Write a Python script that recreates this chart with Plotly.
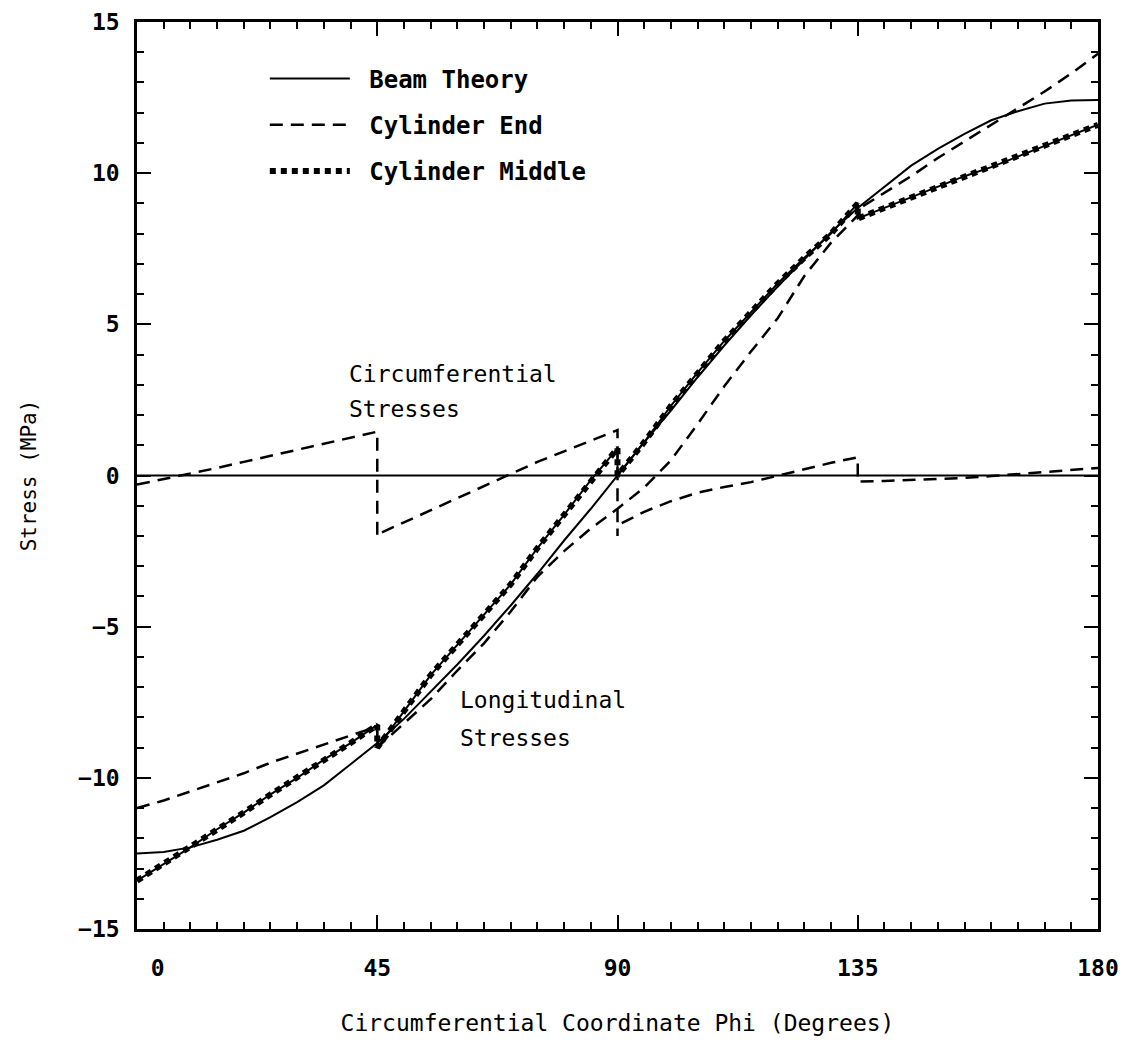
import plotly.graph_objects as go

# ---------------- data ----------------
phi_full = [0, 5, 10, 15, 20, 25, 30, 35, 40, 45, 50, 55, 60, 65, 70, 75, 80, 85, 90,
            95, 100, 105, 110, 115, 120, 125, 130, 135, 140, 145, 150, 155, 160, 165,
            170, 175, 180]
beam_long = [-12.5, -12.45, -12.3, -12.05, -11.75, -11.3, -10.8, -10.25, -9.55, -8.85,
             -8.05, -7.15, -6.25, -5.3, -4.3, -3.25, -2.15, -1.1, 0.0,
             1.1, 2.15, 3.25, 4.3, 5.3, 6.25, 7.15, 8.05, 8.85, 9.55, 10.25, 10.8,
             11.3, 11.75, 12.05, 12.3, 12.4, 12.42]
beam_circ_phi = [0, 180]
beam_circ = [0.0, 0.0]

# Cylinder End, longitudinal stresses (segments separated by jumps at 45 and 135)
end_long_phi = [0, 5, 10, 15, 20, 25, 30, 35, 40, 45,
                45, 50, 55, 60, 65, 70, 75, 80, 85, 90, 95, 100, 105, 110, 115, 120, 125, 130, 135,
                135, 140, 145, 150, 155, 160, 165, 170, 175, 180]
end_long = [-11.0, -10.75, -10.45, -10.15, -9.85, -9.5, -9.2, -8.9, -8.6, -8.3,
            -9.0, -8.2, -7.4, -6.45, -5.55, -4.5, -3.35, -2.5, -1.75, -1.1, -0.4, 0.5, 1.7,
            2.95, 4.1, 5.2, 6.6, 7.7, 8.6,
            8.8, 9.35, 9.9, 10.5, 11.05, 11.6, 12.15, 12.7, 13.3, 13.95]

# Cylinder End, circumferential stresses (saw-tooth with drops at 45, 90, 135)
end_circ_phi = [0, 5, 10, 15, 20, 25, 30, 35, 40, 45,
                45, 45, 50, 55, 60, 65, 70, 75, 80, 85, 90,
                90, 90, 95, 100, 105, 110, 115, 120, 125, 130, 135,
                135, 140, 145, 150, 155, 160, 165, 170, 175, 180]
end_circ = [-0.3, -0.12, 0.05, 0.25, 0.45, 0.65, 0.85, 1.05, 1.25, 1.45,
            -2.0, -1.95, -1.55, -1.15, -0.75, -0.35, 0.05, 0.45, 0.8, 1.15, 1.5,
            -2.0, -1.65, -1.2, -0.85, -0.57, -0.38, -0.22, 0.0, 0.22, 0.42, 0.6,
            -0.2, -0.18, -0.15, -0.12, -0.08, -0.02, 0.05, 0.12, 0.2, 0.25]

# Cylinder Middle, longitudinal stresses
mid_long_phi = [0, 5, 10, 15, 20, 25, 30, 35, 40, 45,
                45, 50, 55, 60, 65, 70, 75, 80, 85, 90,
                90, 95, 100, 105, 110, 115, 120, 125, 130, 135,
                135, 140, 145, 150, 155, 160, 165, 170, 175, 180]
mid_long = [-13.4, -12.85, -12.3, -11.7, -11.15, -10.55, -10.0, -9.4, -8.85, -8.25,
            -9.0, -7.8, -6.6, -5.6, -4.6, -3.6, -2.4, -1.3, -0.15, 0.9,
            0.0, 1.1, 2.3, 3.4, 4.45, 5.4, 6.35, 7.2, 8.0, 9.0,
            8.5, 8.85, 9.2, 9.55, 9.9, 10.2, 10.55, 10.9, 11.25, 11.6]

series_names = ["\u00a0Beam Theory", "\u00a0Cylinder End", "\u00a0Cylinder Middle"]
x_ticks = [0, 45, 90, 135, 180]
x_ticktext = ["\u00a0\u00a0\u00a00", "45", "90", "135", "180"]
y_ticks = [-15, -10, -5, 0, 5, 10, 15]

FONT = "DejaVu Sans Mono"

fig = go.Figure()

fig.add_trace(go.Scatter(x=phi_full, y=beam_long, mode="lines", name=series_names[0],
                         legendgroup="a", line=dict(color="black", width=2)))
fig.add_trace(go.Scatter(x=beam_circ_phi, y=beam_circ, mode="lines", showlegend=False,
                         legendgroup="a", line=dict(color="black", width=2)))

fig.add_trace(go.Scatter(x=end_long_phi, y=end_long, mode="lines", name=series_names[1],
                         legendgroup="b", line=dict(color="black", width=2.5, dash="13px,8px")))
fig.add_trace(go.Scatter(x=end_circ_phi, y=end_circ, mode="lines", showlegend=False,
                         legendgroup="b", line=dict(color="black", width=2.5, dash="13px,8px")))

fig.add_trace(go.Scatter(x=mid_long_phi, y=mid_long, mode="lines", showlegend=False,
                         legendgroup="c", line=dict(color="black", width=2)))
fig.add_trace(go.Scatter(x=mid_long_phi, y=mid_long, mode="lines", name=series_names[2],
                         legendgroup="c", line=dict(color="black", width=6, dash="6px,5px")))

def label(text, x, y):
    fig.add_annotation(x=x, y=y, text=text, showarrow=False, xanchor="left",
                       yanchor="middle", font=dict(family=FONT, size=23, color="black"))

label("Circumferential", 39.3, 3.37)
label("Stresses", 39.3, 2.2)
label("Longitudinal", 60.1, -7.44)
label("Stresses", 60.1, -8.67)

axis_common = dict(showline=True, linewidth=2.5, linecolor="black", mirror="allticks",
                   ticks="inside", ticklen=14, tickwidth=2, tickcolor="black",
                   showgrid=False, zeroline=False,
                   tickfont=dict(family=FONT, size=23, color="black", weight="bold"))

fig.update_xaxes(range=[0, 180], tickmode="array", tickvals=x_ticks, ticktext=x_ticktext,
                 minor=dict(dtick=5, tick0=0, ticks="inside", ticklen=7, tickwidth=2,
                            tickcolor="black", showgrid=False),
                 ticklabelstandoff=17,
                 title=dict(text="Circumferential Coordinate Phi (Degrees)",
                            font=dict(family=FONT, size=23, color="black"), standoff=37),
                 **axis_common)
fig.update_yaxes(range=[-15, 15], tickmode="array", tickvals=y_ticks,
                 minor=dict(dtick=1, tick0=0, ticks="inside", ticklen=7, tickwidth=2,
                            tickcolor="black", showgrid=False),
                 ticklabelstandoff=10,
                 title=dict(text="Stress (MPa)",
                            font=dict(family=FONT, size=21, color="black"), standoff=36),
                 **axis_common)

fig.update_layout(
    width=1115, height=1028,
    margin=dict(l=129, r=25, t=14, b=107, autoexpand=False),
    paper_bgcolor="white", plot_bgcolor="white",
    font=dict(family=FONT, color="black"),
    legend=dict(x=0.133, y=0.962, xanchor="left", yanchor="top",
                bgcolor="rgba(0,0,0,0)", itemwidth=80, traceorder="grouped",
                tracegroupgap=12,
                font=dict(family=FONT, size=24, color="black", weight="bold")),
)

fig.write_html("out.html")
